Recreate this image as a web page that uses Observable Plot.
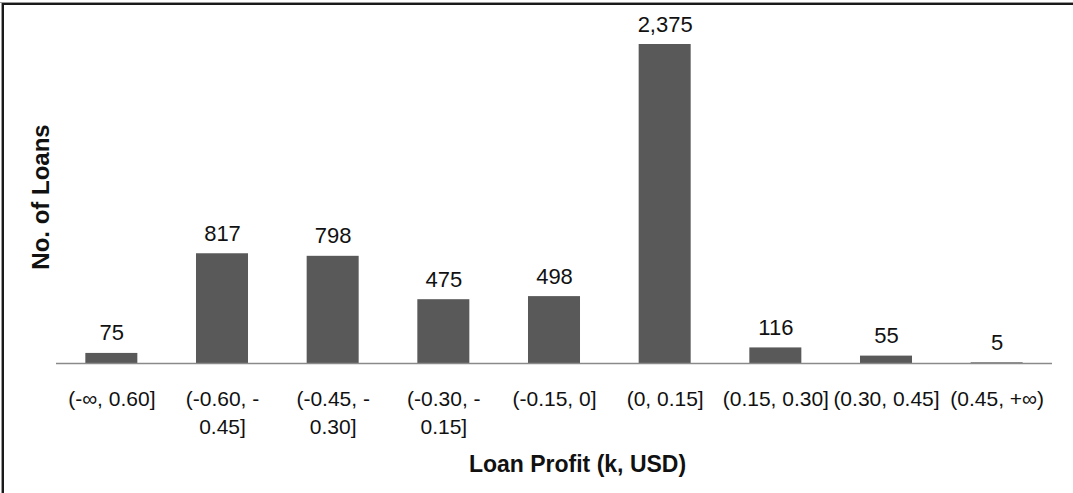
<!DOCTYPE html>
<html>
<head>
<meta charset="utf-8">
<script src="https://cdn.jsdelivr.net/npm/d3@7"></script>
<script src="https://cdn.jsdelivr.net/npm/@observablehq/plot@0.6"></script>
<style>
  html, body { margin: 0; padding: 0; background: #fff; overflow: hidden; }
  #chart { position: relative; width: 1073px; height: 493px; overflow: hidden; }
  #chart svg { display: block; }
  .edge { position: absolute; pointer-events: none; }
  #top-light { left: 0; top: 2px; width: 1073px; height: 1px; background: #9a9a9a; }
  #top-dark  { left: 1px; top: 3px; width: 1072px; height: 2px; background: #1a1a1a; }
  #left-light { left: 1px; top: 2px; width: 1px; height: 491px; background: #9a9a9a; }
  #left-dark  { left: 2px; top: 3px; width: 2px; height: 490px; background: #1a1a1a; }
</style>
</head>
<body>
<div id="chart">
  <div class="edge" id="top-light"></div>
  <div class="edge" id="top-dark"></div>
  <div class="edge" id="left-light"></div>
  <div class="edge" id="left-dark"></div>
</div>
<script>
// Profit buckets (k, USD) and loan counts per bucket
const buckets = ["(-∞, 0.60]", "(-0.60, -0.45]", "(-0.45, -0.30]", "(-0.30, -0.15]", "(-0.15, 0]", "(0, 0.15]", "(0.15, 0.30]", "(0.30, 0.45]", "(0.45, +∞)"];
const tickLabels = ["(-∞, 0.60]", "(-0.60, -\n0.45]", "(-0.45, -\n0.30]", "(-0.30, -\n0.15]", "(-0.15, 0]", "(0, 0.15]", "(0.15, 0.30]", "(0.30, 0.45]", "(0.45, +∞)"];
const loans = [75, 817, 798, 475, 498, 2375, 116, 55, 5];
const xTitle = "Loan Profit (k, USD)";
const yTitle = "No. of Loans";

const data = buckets.map((b, i) => ({bucket: b, loans: loans[i]}));
const tickText = new Map(buckets.map((b, i) => [b, tickLabels[i]]));

const chart = Plot.plot({
  width: 1073,
  height: 493,
  marginLeft: 56,
  marginRight: 21,
  marginTop: 44,
  marginBottom: 130,
  style: {fontFamily: "'Liberation Sans', Arial, sans-serif", fontSize: "21px", color: "#111", background: "#fff", overflow: "visible"},
  x: {domain: buckets, paddingInner: 0.53, paddingOuter: 0.265, round: false, axis: null},
  y: {domain: [0, 2375], axis: null},
  marks: [
    Plot.barY(data, {x: "bucket", y: "loans", fill: "#595959"}),
    Plot.ruleY([0], {stroke: "#8a8a8a", strokeWidth: 1.6}),
    Plot.text(data, {x: "bucket", y: "loans", text: d => d3.format(",")(d.loans),
      lineAnchor: "bottom", dy: -13, fontSize: 22, fill: "#111"}),
    Plot.axisX({tickSize: 0, tickPadding: 23, fontSize: 21, lineHeight: 1.33,
      tickFormat: d => tickText.get(d), label: null, fill: "#111"}),
    Plot.text([xTitle], {frameAnchor: "bottom", dx: 23, dy: 108, text: d => d,
      fontSize: 23, fontWeight: "bold", fill: "#111"}),
    Plot.text([yTitle], {frameAnchor: "left", textAnchor: "middle", dx: -15, dy: -7, rotate: -90, text: d => d,
      fontSize: 24, fontWeight: "bold", fill: "#111"})
  ]
});
document.getElementById("chart").prepend(chart);
</script>
</body>
</html>
